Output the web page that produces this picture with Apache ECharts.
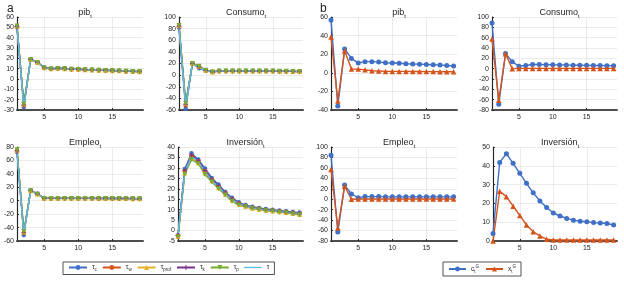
<!DOCTYPE html>
<html><head><meta charset="utf-8">
<script src="https://cdn.jsdelivr.net/npm/echarts@6/dist/echarts.min.js"></script>
<style>html,body{margin:0;padding:0;background:#fff}#c{width:624px;height:282px}</style>
</head><body><div id="c"></div>
<script>
const periods = [1,2,3,4,5,6,7,8,9,10,11,12,13,14,15,16,17,18,19];
const xTicks = [5,10,15];

// Panel a: pib
const aPibTc    = [50.0,-27.0,19.2,16.3,11.2,10.1,10.5,10.2,9.7,9.6,9.2,9.0,8.7,8.5,8.3,8.1,7.8,7.6,7.3];
const aPibTw    = [50.5,-25.5,18.9,16.1,11.0,9.9,10.4,10.1,9.6,9.5,9.1,8.9,8.6,8.4,8.2,8.0,7.7,7.5,7.2];
const aPibTprof = [51.0,-24.5,18.8,16.0,10.8,9.8,10.3,10.0,9.5,9.4,9.0,8.8,8.5,8.3,8.1,7.9,7.6,7.4,7.1];
const aPibTk    = [50.8,-25.0,18.9,16.1,10.9,9.9,10.3,10.0,9.5,9.4,9.0,8.8,8.5,8.3,8.1,7.9,7.6,7.4,7.1];
const aPibTp    = [51.2,-24.2,18.7,15.9,10.7,9.7,10.2,9.9,9.4,9.3,8.9,8.7,8.4,8.2,8.0,7.8,7.5,7.3,7.0];
const aPibT     = [50.5,-27.5,19.0,16.1,11.0,10.0,10.4,10.1,9.6,9.5,9.1,8.9,8.6,8.4,8.2,8.0,7.7,7.5,7.2];
// Panel a: Consumo
const aConTc    = [82,-58,19.5,12.0,7.5,5.5,7.0,7.2,7.2,7.2,7.1,7.1,7.0,7.0,6.9,6.8,6.6,6.4,6.2];
const aConTw    = [84,-52,20.0,14.0,8.0,6.0,7.0,7.2,7.2,7.2,7.1,7.1,7.0,7.0,6.9,6.8,6.6,6.4,6.2];
const aConTprof = [85,-49,20.0,15.0,8.0,5.5,7.0,7.0,7.0,7.0,7.0,7.0,7.0,7.0,6.9,6.8,6.6,6.4,6.1];
const aConTk    = [84.5,-50,20.0,14.5,8.0,5.8,7.0,7.0,7.0,7.0,7.0,7.0,7.0,7.0,6.9,6.8,6.6,6.4,6.1];
const aConTp    = [85.5,-48.5,20.2,15.2,8.2,5.5,7.0,7.0,7.0,7.0,7.0,7.0,7.0,7.0,6.9,6.8,6.6,6.4,6.0];
const aConT     = [83,-55,19.8,13.0,7.8,5.6,7.0,7.1,7.1,7.1,7.0,7.0,7.0,7.0,6.9,6.8,6.6,6.4,6.1];
// Panel a: Empleo
const aEmpTc    = [73,-51,15.5,10.5,4.0,3.6,3.6,3.6,3.6,3.5,3.5,3.5,3.5,3.5,3.4,3.4,3.3,3.2,3.1];
const aEmpTw    = [74,-48,15.0,10.0,3.8,3.5,3.5,3.5,3.5,3.5,3.5,3.5,3.5,3.4,3.4,3.3,3.3,3.2,3.1];
const aEmpTprof = [75,-47,15.0,10.0,3.5,3.5,3.5,3.5,3.5,3.5,3.5,3.5,3.4,3.4,3.4,3.3,3.2,3.1,3.0];
const aEmpTk    = [74.5,-47.5,15.0,10.0,3.6,3.5,3.5,3.5,3.5,3.5,3.5,3.5,3.4,3.4,3.4,3.3,3.2,3.1,3.0];
const aEmpTp    = [76,-46,14.8,9.8,3.4,3.4,3.4,3.4,3.4,3.4,3.4,3.4,3.4,3.3,3.3,3.2,3.1,3.0,3.0];
const aEmpT     = [74,-50,15.2,10.2,3.8,3.5,3.5,3.5,3.5,3.5,3.5,3.5,3.4,3.4,3.4,3.3,3.2,3.1,3.0];
// Panel a: Inversion
const aInvTc    = [-2.2,29.5,37.0,34.0,29.7,25.2,22.0,18.5,15.7,13.5,12.2,11.4,10.8,10.3,10.0,9.6,9.2,8.9,8.6];
const aInvTw    = [-2.5,28.5,35.8,33.2,28.5,24.3,21.0,17.8,15.0,13.0,11.8,11.0,10.4,9.9,9.6,9.2,8.8,8.5,8.1];
const aInvTprof = [-2.8,27.5,34.8,32.5,27.5,23.8,20.5,17.3,14.5,12.6,11.6,10.7,10.2,9.7,9.4,9.0,8.6,8.2,7.7];
const aInvTk    = [-2.4,28.8,36.2,33.5,28.8,24.6,21.3,18.0,15.2,13.2,11.9,11.1,10.5,10.0,9.7,9.3,8.9,8.6,8.2];
const aInvTp    = [-3.0,27.0,34.0,32.0,26.8,23.3,20.0,17.0,14.0,12.2,11.4,10.5,10.0,9.5,9.2,8.8,8.4,8.0,7.4];
const aInvT     = [-2.6,28.2,35.5,33.0,28.2,24.0,20.8,17.6,14.8,12.9,11.7,10.9,10.3,9.8,9.5,9.1,8.7,8.4,7.9];
// Panel b
const bPibC = [56.7,-35.7,25.6,15.5,10.5,12.0,12.0,11.5,10.8,10.5,10.2,9.8,9.5,9.3,9.0,8.7,8.3,7.8,7.3];
const bPibX = [38.6,-30.3,23.8,4.0,4.0,3.2,2.2,2.0,1.5,1.5,1.5,1.5,1.4,1.4,1.3,1.3,1.2,1.2,1.2];
const bConC = [88.4,-69.0,29.3,13.2,4.9,6.0,8.0,8.0,7.8,7.5,7.3,7.0,6.8,6.6,6.4,6.2,6.0,5.8,5.5];
const bConX = [57.6,-61.3,28.7,0.0,0.5,0.5,0.5,0.5,0.5,0.5,0.5,0.5,0.5,0.5,0.5,0.5,0.5,0.5,0.5];
const bEmpC = [84,-63,27,10,3,5,5,5,4.5,4.5,4.5,4.5,4.5,4.5,4.5,4.5,4.5,4.5,4.5];
const bEmpX = [57,-55,25,0,0.5,0.5,0.5,0.5,0.5,0.5,0.5,0.5,0.5,0.5,0.5,0.5,0.5,0.5,0.5];
const bInvC = [4,41.8,46.4,41.3,36.0,30.7,25.6,21.3,17.8,14.9,13.3,12.0,11.1,10.5,10.2,9.8,9.6,9.3,8.5];
const bInvX = [0,26.4,23.6,18.5,13.6,8.5,4.9,2.7,0.9,0.5,0.5,0.5,0.5,0.5,0.5,0.5,0.5,0.5,0.5];

const aNames = ['τc','τw','τprof','τk','τp','τ'];
const bNames = ['cG','xG'];
const titles = ['pib','Consumo','pib','Consumo','Empleo','Inversión','Empleo','Inversión'];
const yMins = [-30,-60,-40,-80,-60,-5,-80,0];
const yMaxs = [60,100,60,100,80,40,100,50];
const yInts = [10,20,20,20,20,5,20,10];

const FONT = 'Liberation Sans';
const INK = '#262626';
const cols = {tc:'#3f6fc7', tw:'#d5531b', tprof:'#e9b12a', tk:'#7b2f8c', tp:'#76aa32', t:'#5bbce9'};
const plus = 'path://M4,0H6V4H10V6H6V10H4V6H0V4H4Z';

const grids = [
  {left:17, top:17, width:126, height:93},
  {left:179, top:17, width:124, height:93},
  {left:331, top:17, width:126, height:93},
  {left:492, top:17, width:125, height:93},
  {left:17, top:147, width:126, height:94},
  {left:178, top:147, width:125, height:94},
  {left:331, top:147, width:126, height:94},
  {left:493, top:147, width:124, height:94}
];

const xAxes = grids.map((g,i)=>({
  gridIndex:i, type:'value', min:1, max:19.5,
  axisLine:{show:true, onZero:false, lineStyle:{color:'#4d4d4d', width:2}},
  axisTick:{show:true, inside:true, length:2, customValues:xTicks, lineStyle:{color:INK}},
  axisLabel:{customValues:xTicks, fontSize:7, color:INK, margin:4, fontFamily:FONT},
  splitLine:{show:true, lineStyle:{color:'#e6e6e6', width:0.8}}
}));
const yAxes = grids.map((g,i)=>({
  gridIndex:i, type:'value', min:yMins[i], max:yMaxs[i], interval:yInts[i],
  axisLine:{show:true, lineStyle:{color:INK, width:1.2}},
  axisTick:{show:true, inside:true, length:2, lineStyle:{color:INK}},
  axisLabel:{fontSize:7, color:INK, margin:3, fontFamily:FONT},
  splitLine:{show:true, lineStyle:{color:'#e6e6e6', width:0.8}}
}));

const pair = arr => periods.map((p,j)=>[p, arr[j]]);
const series = [];
function aSeries(idx, tc, tw, tprof, tk, tp, t) {
  const defs = [
    [aNames[0], tc, cols.tc, 'circle', 4.5, 0],
    [aNames[1], tw, cols.tw, 'circle', 4.5, 0],
    [aNames[2], tprof, cols.tprof, 'triangle', 5, 0],
    [aNames[3], tk, cols.tk, plus, 4.5, 0],
    [aNames[4], tp, cols.tp, 'triangle', 5, 180],
    [aNames[5], t, cols.t, 'none', 0, 0]
  ];
  defs.forEach(d=>{
    series.push({
      name:d[0], type:'line', xAxisIndex:idx, yAxisIndex:idx, data:pair(d[1]),
      symbol:d[3], symbolSize:d[4], symbolRotate:d[5], showSymbol:d[3]!=='none',
      itemStyle:{color:d[2]}, lineStyle:{color:d[2], width:1.4}, animation:false
    });
  });
}
function bSeries(idx, c, x) {
  series.push({name:bNames[0], type:'line', xAxisIndex:idx, yAxisIndex:idx, data:pair(c),
    symbol:'circle', symbolSize:5, itemStyle:{color:cols.tc}, lineStyle:{color:cols.tc, width:1.4}, animation:false});
  series.push({name:bNames[1], type:'line', xAxisIndex:idx, yAxisIndex:idx, data:pair(x),
    symbol:'triangle', symbolSize:5.5, itemStyle:{color:cols.tw}, lineStyle:{color:cols.tw, width:1.4}, animation:false});
}
aSeries(0, aPibTc, aPibTw, aPibTprof, aPibTk, aPibTp, aPibT);
aSeries(1, aConTc, aConTw, aConTprof, aConTk, aConTp, aConT);
aSeries(4, aEmpTc, aEmpTw, aEmpTprof, aEmpTk, aEmpTp, aEmpT);
aSeries(5, aInvTc, aInvTw, aInvTprof, aInvTk, aInvTp, aInvT);
bSeries(2, bPibC, bPibX);
bSeries(3, bConC, bConX);
bSeries(6, bEmpC, bEmpX);
bSeries(7, bInvC, bInvX);

const titleRich = {m:{fontSize:9, color:INK, fontFamily:FONT}, s:{fontSize:6, color:INK, fontFamily:FONT, padding:[6,0,0,0]}};
const titleOpts = grids.map((g,i)=>({
  text:'{m|'+titles[i]+'}{s|t}', left:g.left+g.width/2, top:g.top-15, textAlign:'center',
  textStyle:{rich:titleRich, fontSize:9, fontWeight:'normal'}
}));
titleOpts.push({text:'a', left:2, top:-2, textStyle:{fontSize:12, fontWeight:'normal', color:INK, fontFamily:FONT}});
titleOpts.push({text:'b', left:315, top:-2, textStyle:{fontSize:12, fontWeight:'normal', color:INK, fontFamily:FONT}});

const legRich = {
  m:{fontSize:6.5, color:INK, fontFamily:FONT},
  s:{fontSize:4.5, color:INK, fontFamily:FONT, padding:[5,0,0,0]},
  u:{fontSize:4.5, color:INK, fontFamily:FONT, padding:[0,0,5,0]}
};
const aLegendData = aNames.map(n => n === 'τ' ? {name:n, icon:'path://M0,0H30V2.2H0Z', itemStyle:{color:cols.t}} : {name:n});
const option = {
  backgroundColor:'#fff',
  title:titleOpts,
  grid:grids,
  xAxis:xAxes,
  yAxis:yAxes,
  legend:[
    {data:aLegendData, left:63, top:262, orient:'horizontal', itemWidth:18, itemHeight:6, itemGap:5,
     padding:[2,5], borderColor:INK, borderWidth:0.8, borderRadius:0,
     formatter:n=> n.length>1 ? '{m|τ}{s|'+n.slice(1)+'}' : '{m|τ}',
     textStyle:{rich:legRich, fontSize:6.5}},
    {data:bNames, left:443, top:262, orient:'horizontal', itemWidth:17, itemHeight:6, itemGap:6,
     padding:[2,5], borderColor:INK, borderWidth:0.8, borderRadius:0,
     formatter:n=> '{m|'+n[0]+'}{s|t}{u|G}',
     textStyle:{rich:legRich, fontSize:6.5}}
  ],
  series:series
};
const chart = echarts.init(document.getElementById('c'), null, {renderer:'canvas'});
chart.setOption(option);
</script></body></html>
